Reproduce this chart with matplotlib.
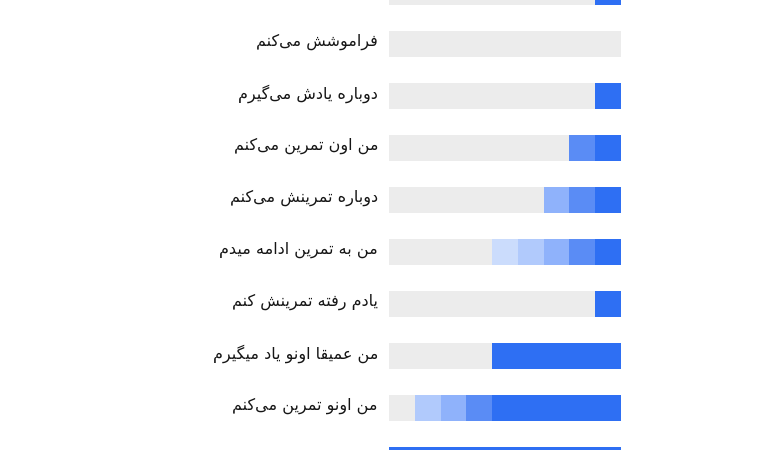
import matplotlib
matplotlib.use("Agg")
import matplotlib.pyplot as plt

# ---------------- data ----------------
labels = [
    "",
    "فراموشش می‌کنم",
    "دوباره یادش می‌گیرم",
    "من اون تمرین می‌کنم",
    "دوباره تمرینش می‌کنم",
    "من به تمرین ادامه میدم",
    "یادم رفته تمرینش کنم",
    "من عمیقا اونو یاد میگیرم",
    "من اونو تمرین می‌کنم",
    "",
]
total_units = 9
dark = [1, 0, 1, 1, 1, 1, 1, 5, 5, 9]
medium = [0, 0, 0, 1, 1, 1, 0, 0, 1, 0]
light = [0, 0, 0, 0, 1, 1, 0, 0, 1, 0]
lighter = [0, 0, 0, 0, 0, 1, 0, 0, 1, 0]
lightest = [0, 0, 0, 0, 0, 1, 0, 0, 0, 0]

series = [dark, medium, light, lighter, lightest]
colors = ["#2e6ff3", "#5a8cf5", "#8fb2fb", "#b1cafc", "#cbdcfc"]
bg_color = "#ececec"

# ------------- simple Arabic/Persian shaping -------------
DUAL = {
    "\u0628": ("\uFE8F", "\uFE90", "\uFE91", "\uFE92"),
    "\u062A": ("\uFE95", "\uFE96", "\uFE97", "\uFE98"),
    "\u0634": ("\uFEB5", "\uFEB6", "\uFEB7", "\uFEB8"),
    "\u0639": ("\uFEC9", "\uFECA", "\uFECB", "\uFECC"),
    "\u0641": ("\uFED1", "\uFED2", "\uFED3", "\uFED4"),
    "\u0642": ("\uFED5", "\uFED6", "\uFED7", "\uFED8"),
    "\u0645": ("\uFEE1", "\uFEE2", "\uFEE3", "\uFEE4"),
    "\u0646": ("\uFEE5", "\uFEE6", "\uFEE7", "\uFEE8"),
    "\u0647": ("\uFEE9", "\uFEEA", "\uFEEB", "\uFEEC"),
    "\u06A9": ("\uFB8E", "\uFB8F", "\uFB90", "\uFB91"),
    "\u06AF": ("\uFB92", "\uFB93", "\uFB94", "\uFB95"),
    "\u06CC": ("\uFBFC", "\uFBFD", "\uFBFE", "\uFBFF"),
}
RIGHT = {
    "\u0627": ("\uFE8D", "\uFE8E"),
    "\u062F": ("\uFEA9", "\uFEAA"),
    "\u0631": ("\uFEAD", "\uFEAE"),
    "\u0648": ("\uFEED", "\uFEEE"),
}


def shape(text):
    chars = list(text)
    out = []
    for i, c in enumerate(chars):
        prev = chars[i - 1] if i > 0 else None
        nxt = chars[i + 1] if i + 1 < len(chars) else None
        join_prev = prev in DUAL and (c in DUAL or c in RIGHT)
        if c in DUAL:
            join_next = nxt in DUAL or nxt in RIGHT
            iso, fin, ini, med = DUAL[c]
            if join_prev and join_next:
                out.append(med)
            elif join_prev:
                out.append(fin)
            elif join_next:
                out.append(ini)
            else:
                out.append(iso)
        elif c in RIGHT:
            iso, fin = RIGHT[c]
            out.append(fin if join_prev else iso)
        elif c == "\u200c":
            continue
        else:
            out.append(c)
    return "".join(reversed(out))


# ---------------- figure ----------------
fig = plt.figure(figsize=(7.8, 4.5), dpi=100)
ax = fig.add_axes([0, 0, 1, 1])
unit_px = 232 / total_units
x0_px = 389
ax.set_xlim(-x0_px / unit_px, (780 - x0_px) / unit_px)
row_px = 52
y0_px = -8
ax.set_ylim((450 - y0_px) / row_px, (0 - y0_px) / row_px)
ax.axis("off")

ys = list(range(len(labels)))
h = 26 / row_px
ax.barh(ys, [total_units] * len(ys), left=0, height=h, color=bg_color, linewidth=0)

cum = [0] * len(ys)
for vals, col in zip(series, colors):
    lefts = [total_units - c - v for c, v in zip(cum, vals)]
    ax.barh(ys, vals, left=lefts, height=h, color=col, linewidth=0)
    cum = [c + v for c, v in zip(cum, vals)]

for y, lab in zip(ys, labels):
    if lab:
        ax.text(-11 / unit_px, y - 2 / row_px, shape(lab), ha="right", va="center",
                fontsize=11.5, color="#151515", family="DejaVu Sans")

fig.savefig("out.png", dpi=100)
